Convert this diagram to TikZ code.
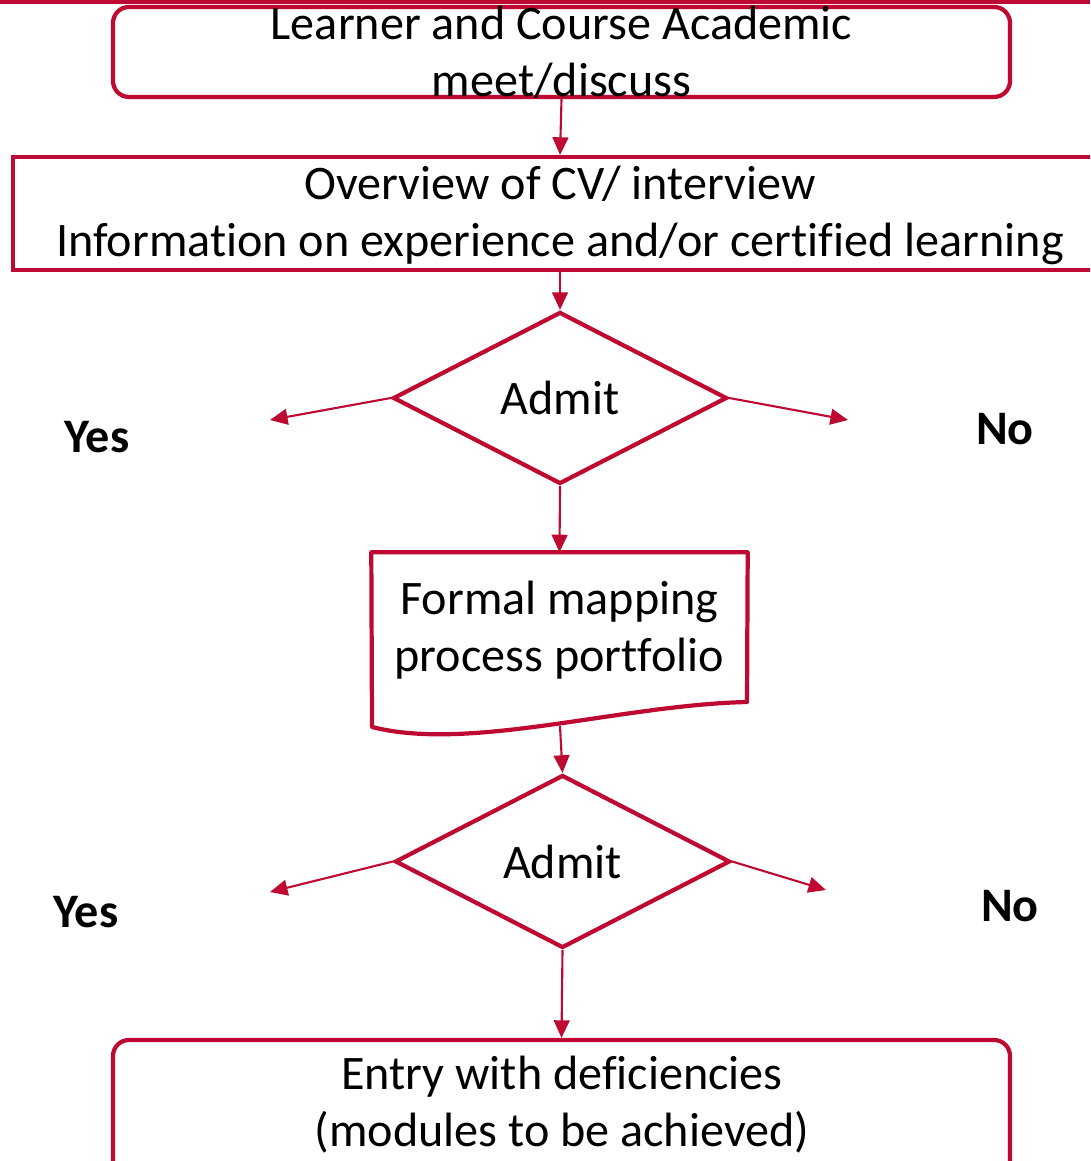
\documentclass[tikz,border=0pt]{standalone}
\usepackage{fontspec}
\setmainfont{Carlito}[Ligatures=NoCommon]
\usetikzlibrary{shapes.geometric}
\usetikzlibrary{arrows.meta}

\definecolor{crimson}{RGB}{190,10,50}

\tikzset{
  box/.style={draw=crimson, line width=1.2pt, minimum width=8.97cm, minimum height=0.90cm},
  roundbox/.style={box, rounded corners=0.16cm},
  decision/.style={diamond, draw=crimson, line width=1.2pt, inner sep=0pt, minimum width=3.34cm, minimum height=1.72cm},
  flow/.style={crimson, line width=0.6pt, -{Triangle[length=5pt,width=4.5pt]}},
  answer/.style={font=\fontsize{13.7}{16.2}\selectfont\bfseries}
}

\begin{document}
\begin{tikzpicture}[font=\fontsize{13.7}{16.2}\selectfont]
\useasboundingbox (0,0) rectangle (10.9,11.61);
\clip (0,0) rectangle (10.9,11.61);

% top bar
\fill[crimson] (0,11.57) rectangle (10.9,11.61);

% boxes
\node[roundbox] (learn) at (5.615,11.09) {};
\node[align=center] (learntext) at (5.615,11.09) {Learner and Course Academic\\meet/discuss};

\node[box, minimum width=10.94cm, minimum height=1.13cm] (overview) at (5.60,9.475) {};
\node[align=center] (overviewtext) at (5.60,9.455)
  {Overview of CV/ interview\\Information on experience and/or certified learning};

\node[decision] (admitA) at (5.60,7.63) {Admit};

\node[minimum width=3.75cm, minimum height=1.54cm, align=center] (doc) at (5.595,5.31)
  {Formal mapping\\process portfolio};
\draw[crimson, line width=1.2pt, line join=round] (doc.north west) -- (doc.north east) -- (7.47,4.59)
  .. controls (6.20,4.56) and (4.70,4.09) .. (3.72,4.34) -- cycle;
\coordinate (docend) at (5.60,4.35);

\node[decision, minimum width=3.35cm, minimum height=1.73cm] (admitB) at (5.625,2.995) {Admit};

\node[roundbox, minimum height=1.6cm] (entry) at (5.615,0.41) {};
\node[align=center] (entrytext) at (5.62,0.56) {Entry with deficiencies\\(modules to be achieved)};

% yes / no
\node[answer] (yesA) at (0.97,7.24) {Yes};
\node[answer] (noA) at (10.05,7.32) {No};
\node[answer] (yesB) at (0.86,2.49) {Yes};
\node[answer] (noB) at (10.10,2.55) {No};

\coordinate (leftA) at (2.70,7.41);
\coordinate (rightA) at (8.48,7.41);
\coordinate (leftB) at (2.70,2.69);
\coordinate (rightB) at (8.26,2.71);

% connectors
\draw[flow] (learn.south) -- (overview.north);
\draw[flow] (overview.south) -- (admitA.north);
\draw[flow] (admitA.west) -- (leftA);
\draw[flow] (admitA.east) -- (rightA);
\draw[flow] (admitA.south) -- (doc.north);
\draw[flow] (docend) -- (admitB.north);
\draw[flow] (admitB.west) -- (leftB);
\draw[flow] (admitB.east) -- (rightB);
\draw[flow] (admitB.south) -- (entry.north);
\end{tikzpicture}
\end{document}
